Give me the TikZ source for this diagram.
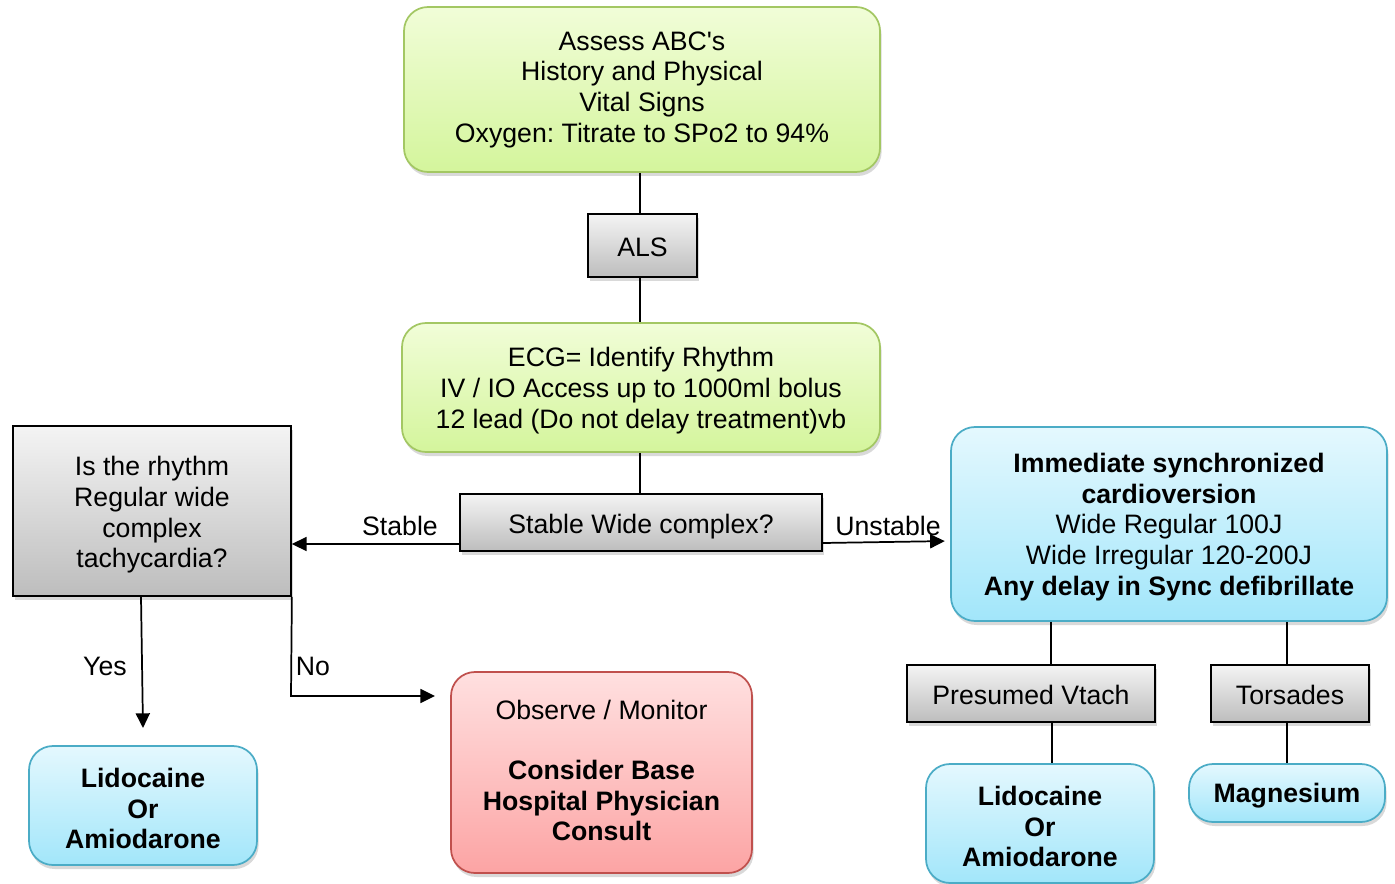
\documentclass[tikz,border=0pt]{standalone}
\usepackage{fontspec}
\newfontfamily\arialf{Liberation Sans}
\usetikzlibrary{arrows.meta,shadows,calc}
\definecolor{gtop}{HTML}{F1FDD8}
\definecolor{gbot}{HTML}{D4F59C}
\definecolor{gbrd}{HTML}{A3C763}
\definecolor{btop}{HTML}{E4F8FE}
\definecolor{bbot}{HTML}{A2E6FA}
\definecolor{bbrd}{HTML}{4BACC6}
\definecolor{rtop}{HTML}{FFE0E0}
\definecolor{rbot}{HTML}{FCA4A4}
\definecolor{rbrd}{HTML}{C0504D}
\definecolor{ytop}{HTML}{F4F4F4}
\definecolor{ybot}{HTML}{BDBDBD}
\tikzset{
  base/.style={inner sep=0pt,
    drop shadow={shadow xshift=1.2pt, shadow yshift=-3pt, opacity=0.3}},
  sz/.style 2 args={minimum width=#1*0.75pt, minimum height=#2*0.75pt},
  greenbox/.style={base, rounded corners=18pt, draw=gbrd, line width=1.3pt, top color=gtop, bottom color=gbot},
  bluebox/.style={base, rounded corners=18pt, draw=bbrd, line width=1.3pt, top color=btop, bottom color=bbot},
  redbox/.style={base, rounded corners=18pt, draw=rbrd, line width=1.3pt, top color=rtop, bottom color=rbot},
  graybox/.style={base, draw=black, line width=1.3pt, top color=ytop, bottom color=ybot},
  txt/.style={font=\arialf\frenchspacing\fontsize{20}{23}\selectfont, align=center, inner sep=0pt},
  lbl/.style={font=\arialf\fontsize{20}{23}\selectfont, inner sep=0pt},
  conn/.style={line width=1.3pt, black},
  arr/.style={conn, -{Triangle[length=11pt,width=10.5pt]}}
}
\begin{document}
\begin{tikzpicture}[x=0.75pt,y=-0.75pt]
\useasboundingbox (0,0) rectangle (1395,884);
% boxes
\node[greenbox, sz={476}{165}] (top) at (642,89.5) {};
\node[graybox, sz={109}{63}] (als) at (642.5,245.5) {};
\node[greenbox, sz={478}{129}] (ecg) at (641,387.5) {};
\node[graybox, sz={362}{57}] (stable) at (641,522.5) {};
\node[graybox, sz={278}{170}] (left) at (152,511) {};
\node[bluebox, sz={436}{194}] (blue) at (1169,524) {};
\node[graybox, sz={248}{57}] (pv) at (1031,693.5) {};
\node[graybox, sz={158}{57}] (tor) at (1290,693.5) {};
\node[bluebox, sz={228}{119}] (lid2) at (1040,823.5) {};
\node[bluebox, sz={196}{58}] (mag) at (1287,793) {};
\node[bluebox, sz={228}{119}] (lid1) at (143,805.5) {};
\node[redbox, sz={301}{201}] (obs) at (601.5,772.5) {};
% texts
\node[txt] (topT) at (642,89.5) {Assess ABC's\\History and Physical\\Vital Signs\\Oxygen: Titrate to SPo2 to 94\%};
\node[txt] (alsT) at (642.5,247.5) {ALS};
\node[txt] (ecgT) at (641,390.5) {ECG= Identify Rhythm\\IV / IO Access up to 1000ml bolus\\12 lead (Do not delay treatment)vb};
\node[txt] (stableT) at (641,526.5) {Stable Wide complex?};
\node[txt] (leftT) at (152,515) {Is the rhythm\\Regular wide\\complex\\tachycardia?};
\node[txt] (blueT) at (1169,527) {\textbf{Immediate synchronized}\\\textbf{cardioversion}\\Wide Regular 100J\\Wide Irregular 120-200J\\\textbf{Any delay in Sync defibrillate}};
\node[txt] (pvT) at (1031,694.5) {Presumed Vtach};
\node[txt] (torT) at (1290,694.5) {Torsades};
\node[txt] (lid2T) at (1040,826.5) {\textbf{Lidocaine}\\\textbf{Or}\\\textbf{Amiodarone}};
\node[txt] (magT) at (1287,796) {\textbf{Magnesium}};
\node[txt] (lid1T) at (143,808.5) {\textbf{Lidocaine}\\\textbf{Or}\\\textbf{Amiodarone}};
\node[txt] (obsT) at (601.5,770.5) {Observe / Monitor\\[22pt]\textbf{Consider Base}\\\textbf{Hospital Physician}\\\textbf{Consult}};

\coordinate (yesend) at (143,728);
\coordinate (nocorner) at (291,696);
\coordinate (noend) at (435,696);

\draw[conn] (top.south -| 640,0) -- (als.north -| 640,0);
\draw[conn] (als.south -| 640,0) -- (ecg.north -| 640,0);
\draw[conn] (ecg.south -| 640,0) -- (stable.north -| 640,0);
\draw[arr] (stable.west |- 0,544) -- (left.east |- 0,544);
\draw[arr, shorten >=4pt] (stable.east |- 0,543) -- (blue.west |- 0,541);
\draw[arr] (left.south -| 141,0) -- (yesend);
\draw[arr] (left.south east) -- (nocorner) -- (noend);
\draw[conn] (blue.south -| 1051,0) -- (pv.north -| 1051,0);
\draw[conn] (blue.south -| 1287,0) -- (tor.north -| 1287,0);
\draw[conn] (pv.south -| 1052,0) -- (lid2.north -| 1052,0);
\draw[conn] (tor.south -| 1287,0) -- (mag.north -| 1287,0);

\node[lbl] (lstable) at (400,526) {Stable};
\node[lbl] (lunstable) at (888,526) {Unstable};
\node[lbl] (lyes) at (105,666) {Yes};
\node[lbl] (lno) at (313,666) {No};
\end{tikzpicture}
\end{document}
